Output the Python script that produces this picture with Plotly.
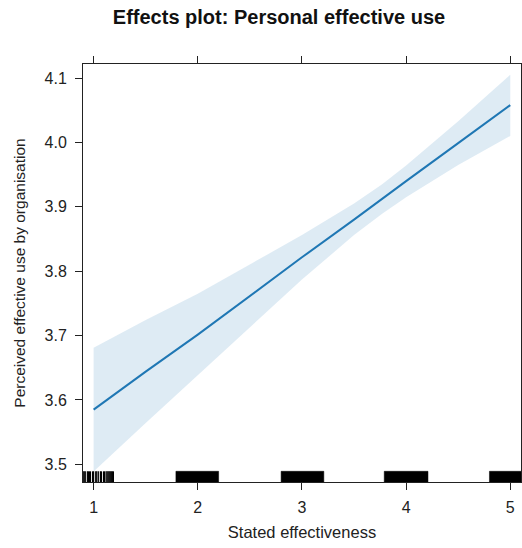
import plotly.graph_objects as go

# Fitted effect and confidence band
x_fit = [1.0, 1.5, 2.0, 2.5, 3.0, 3.5, 3.77, 4.0, 4.5, 5.0]
y_fit = [3.585, 3.644, 3.7015, 3.762, 3.8215, 3.880, 3.9125, 3.9398, 3.9989, 4.058]
y_lower = [3.489, 3.564, 3.638, 3.713, 3.787, 3.856, 3.889, 3.915, 3.965, 4.010]
y_upper = [3.681, 3.724, 3.765, 3.810, 3.856, 3.905, 3.935, 3.964, 4.033, 4.105]

# Rug: sparse ticks near 1, dense (solid) blocks at 2..5
rug_ticks = [0.90, 0.91, 0.92, 0.94, 0.95, 0.96, 0.97, 0.99, 1.00, 1.02, 1.03,
             1.045, 1.065, 1.075, 1.095, 1.105, 1.12, 1.13, 1.14, 1.15, 1.16,
             1.17, 1.18, 1.19]
rug_blocks = [(1.79, 2.20), (2.80, 3.21), (3.79, 4.21), (4.80, 5.20)]

x_ticks = [1, 2, 3, 4, 5]
y_ticks = [3.5, 3.6, 3.7, 3.8, 3.9, 4.0, 4.1]
y_tick_labels = ["3.5", "3.6", "3.7", "3.8", "3.9", "4.0", "4.1"]

X_RANGE = [0.898, 5.103]
Y_RANGE = [3.4725, 4.1218]
RUG_TOP = 3.4891

BLUE = "#1f77b4"
FONT = "Liberation Sans, Arial, Helvetica, sans-serif"

fig = go.Figure()

# confidence band
fig.add_trace(go.Scatter(
    x=x_fit + x_fit[::-1],
    y=y_upper + y_lower[::-1],
    fill="toself", fillcolor="rgba(31,119,180,0.15)",
    line=dict(width=0), mode="lines", hoverinfo="skip", showlegend=False))

# fitted line
fig.add_trace(go.Scatter(
    x=x_fit, y=y_fit, mode="lines",
    line=dict(color=BLUE, width=2), showlegend=False))

# rug ticks
rx, ry = [], []
for v in rug_ticks:
    rx += [v, v, None]
    ry += [Y_RANGE[0], RUG_TOP, None]
fig.add_trace(go.Scatter(x=rx, y=ry, mode="lines",
                         line=dict(color="black", width=1.2),
                         hoverinfo="skip", showlegend=False))

# rug blocks
bx, by = [], []
for a, b in rug_blocks:
    bx += [a, b, b, a, a, None]
    by += [Y_RANGE[0], Y_RANGE[0], RUG_TOP, RUG_TOP, Y_RANGE[0], None]
fig.add_trace(go.Scatter(x=bx, y=by, mode="lines", fill="toself",
                         fillcolor="black", line=dict(color="black", width=0.5),
                         hoverinfo="skip", showlegend=False))

axis_common = dict(
    showline=True, linecolor="#222", linewidth=1, mirror="ticks",
    ticks="outside", ticklen=7, tickcolor="#222", tickwidth=1,
    showgrid=False, zeroline=False, automargin=False,
    tickfont=dict(family=FONT, size=16, color="#222"),
)

fig.update_layout(
    width=522, height=548,
    margin=dict(l=83, r=1, t=64, b=66),
    paper_bgcolor="white", plot_bgcolor="white",
    title=dict(text="<b>Effects plot: Personal effective use</b>",
               x=279 / 522, xanchor="center", y=1 - 17 / 548, yanchor="middle",
               font=dict(family=FONT, size=20, color="#111")),
    xaxis=dict(range=X_RANGE, tickvals=x_ticks, ticktext=[str(t) for t in x_ticks],
               ticklabelstandoff=4,
               title=dict(text="Stated effectiveness", standoff=11,
                          font=dict(family=FONT, size=16.5, color="#222")),
               **axis_common),
    yaxis=dict(range=Y_RANGE, tickvals=y_ticks, ticktext=y_tick_labels,
               ticklabelstandoff=5,
               title=dict(text="Perceived effective use by organisation", standoff=15,
                          font=dict(family=FONT, size=15.5, color="#222")),
               **axis_common),
    showlegend=False,
)

fig.write_html("out.html")
